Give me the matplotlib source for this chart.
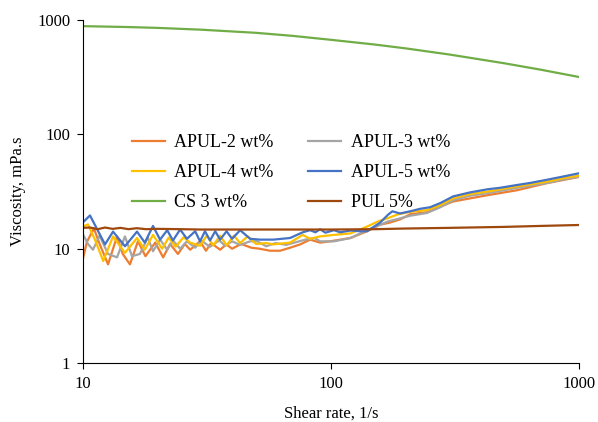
import numpy as np
import matplotlib
matplotlib.use("Agg")
import matplotlib.pyplot as plt

# ── Data ──────────────────────────────────────────────────────────────────────
apul2_rate = [10.0, 10.4, 11.1, 11.7, 12.65, 13.75, 14.5, 15.5, 16.7, 17.9, 19.6, 21.1,
              22.5, 24.2, 25.8, 27.1, 29.7, 31.4, 32.9, 35.8, 37.9, 40.0, 43.5, 47.8,
              51.5, 56.9, 62.5, 68.5, 75.2, 82.5, 90.5, 99.3, 120, 140, 158, 173,
              190, 209, 244, 310, 428, 564, 745, 1000]
apul2_visc = [8.0, 11.5, 15.0, 11.0, 7.3, 12.8, 9.0, 7.3, 11.6, 8.6, 11.3, 8.4,
              11.0, 9.0, 11.0, 9.8, 11.6, 9.6, 11.2, 9.8, 10.9, 10.0, 11.0, 10.2,
              10.0, 9.6, 9.6, 10.2, 10.9, 12.0, 11.3, 11.6, 12.4, 14.2, 16.2, 16.9,
              18.0, 20.0, 20.8, 25.8, 29.3, 32.4, 37.4, 42.3]

apul3_rate = [10.0, 10.5, 11.0, 11.7, 12.65, 13.75, 14.8, 15.8, 17.0, 18.3, 19.2, 20.5,
              21.9, 23.1, 24.7, 26.3, 28.4, 30.0, 32.6, 35.5, 37.5, 40.0, 43.1, 47.3,
              50.5, 54.9, 59.8, 66.0, 79.0, 86.0, 90.5, 103, 120, 140, 170, 209,
              244, 276, 311, 364, 428, 564, 745, 880, 1000]
apul3_visc = [13.5, 11.0, 9.8, 13.0, 9.0, 8.4, 12.8, 8.6, 9.0, 12.5, 9.5, 12.0,
              9.8, 11.8, 10.0, 11.6, 10.2, 11.8, 10.4, 11.8, 10.6, 11.6, 10.8, 11.6,
              11.6, 10.5, 11.2, 10.8, 12.0, 12.4, 11.6, 11.6, 12.4, 14.5, 17.3, 19.4,
              20.5, 23.0, 26.5, 29.0, 30.5, 34.0, 37.5, 40.5, 42.5]

apul4_rate = [10.0, 10.5, 11.2, 12.1, 13.25, 14.8, 16.55, 17.8, 19.2, 20.9, 22.2, 23.7,
              25.5, 27.1, 29.7, 31.6, 33.6, 35.8, 38.0, 40.7, 43.1, 46.2, 50.0, 55.0,
              58.6, 68.5, 77.0, 82.5, 90.5, 103, 120, 140, 155, 170, 186, 209,
              244, 276, 311, 364, 428, 564, 745, 880, 1000]
apul4_visc = [15.6, 16.3, 12.0, 7.8, 12.8, 9.2, 12.4, 9.8, 13.2, 10.0, 12.5, 10.4,
              12.6, 11.3, 10.6, 13.0, 10.7, 13.0, 10.7, 13.0, 11.2, 12.8, 11.0, 11.2,
              10.9, 11.3, 13.2, 12.2, 12.8, 13.2, 13.6, 15.6, 17.3, 18.5, 19.9, 21.0,
              21.7, 24.0, 27.5, 30.0, 31.5, 35.0, 38.5, 41.5, 43.4]

apul5_rate = [10.0, 10.7, 12.3, 13.25, 14.8, 16.55, 17.8, 19.2, 20.5, 21.9, 23.1, 24.7,
              26.3, 28.4, 29.7, 31.1, 32.6, 34.2, 35.8, 38.0, 40.0, 43.1, 47.3, 51.9,
              58.6, 68.5, 77.0, 82.5, 86.7, 90.5, 95.0, 103, 109, 120, 131, 140,
              158, 170, 177, 190, 209, 229, 251, 276, 311, 364, 428, 481, 564, 636,
              745, 880, 1000]
apul5_visc = [16.9, 19.5, 10.9, 14.1, 10.5, 14.1, 11.3, 15.8, 12.0, 14.5, 11.8, 14.7,
              12.2, 14.2, 11.6, 14.2, 11.8, 14.2, 12.0, 14.2, 12.2, 14.5, 12.2, 12.0,
              12.0, 12.4, 13.9, 14.5, 13.9, 14.8, 13.8, 14.5, 13.9, 14.4, 14.2, 14.2,
              16.9, 19.8, 21.2, 20.3, 21.2, 22.3, 23.0, 25.0, 28.6, 31.0, 33.0, 34.0,
              36.0, 37.5, 40.0, 43.0, 45.5]

cs_rate = [10, 15, 20, 30, 50, 70, 100, 150, 200, 300, 500, 700, 1000]
cs_visc = [875, 860, 845, 815, 765, 720, 665, 605, 560, 495, 415, 365, 315]

pul_rate = [10, 10.7, 11.5, 12.3, 13.2, 14.2, 15.3, 16.5, 18, 20, 25, 30, 40, 60,
            100, 150, 200, 300, 500, 700, 1000]
pul_visc = [15.2, 15.3, 14.8, 15.3, 14.9, 15.2, 14.8, 15.1, 14.8, 14.9, 14.8, 14.7,
            14.7, 14.7, 14.7, 14.8, 15.0, 15.2, 15.5, 15.8, 16.1]

SERIES = [
    ("APUL-2 wt%", apul2_rate, apul2_visc, "#ED7D31"),
    ("APUL-3 wt%", apul3_rate, apul3_visc, "#A5A5A5"),
    ("APUL-4 wt%", apul4_rate, apul4_visc, "#FFC000"),
    ("APUL-5 wt%", apul5_rate, apul5_visc, "#4472C4"),
    ("CS 3 wt%",   cs_rate,    cs_visc,    "#70AD47"),
    ("PUL 5%",     pul_rate,   pul_visc,   "#9E480E"),
]

# ── Plot ──────────────────────────────────────────────────────────────────────
plt.rcParams["font.family"] = ["Liberation Serif", "DejaVu Serif"]

fig = plt.figure(figsize=(5.98, 4.22), dpi=100)
ax = fig.add_axes([82.7 / 598, 1 - 363.3 / 422,
                   (579 - 82.7) / 598, (363.3 - 19.5) / 422])

lines = {}
for label, x, y, colour in SERIES:
    ln, = ax.plot(x, y, color=colour, lw=1.6, label=label, solid_joinstyle="round")
    lines[label] = ln

ax.set_xscale("log")
ax.set_yscale("log")
ax.set_xlim(10, 1000)
ax.set_ylim(1, 1000)
ax.set_xticks([10, 100, 1000])
ax.set_xticklabels(["10", "100", "1000"])
ax.set_yticks([1, 10, 100, 1000])
ax.set_yticklabels(["1", "10", "100", "1000"])
ax.minorticks_off()
ax.tick_params(axis="both", direction="out", length=4, width=0.8,
               labelsize=12, pad=5, colors="black")

for side in ("top", "right"):
    ax.spines[side].set_visible(False)
for side in ("left", "bottom"):
    ax.spines[side].set_linewidth(0.8)

ax.set_xlabel("Shear rate, 1/s", fontsize=12, labelpad=10)
ax.set_ylabel("Viscosity, mPa.s", fontsize=12, labelpad=8)

# legend: row-wise order in 2 columns
order = ["APUL-2 wt%", "APUL-4 wt%", "CS 3 wt%",
         "APUL-3 wt%", "APUL-5 wt%", "PUL 5%"]
fig.legend([lines[k] for k in order], order, loc="upper left",
           bbox_to_anchor=(132 / 598, 1 - 134 / 422), ncol=2, frameon=False,
           fontsize=13, handlelength=1.8, handletextpad=0.55,
           columnspacing=1.9, labelspacing=0.72, borderpad=0, borderaxespad=0)

# clipped title remnant at the very top of the image
fig.text(524 / 598, 1 + 4.5 / 422, "Viscosity [mPa]", ha="right", va="baseline",
         fontsize=13, fontweight="bold")

fig.savefig("out.png", dpi=100)
